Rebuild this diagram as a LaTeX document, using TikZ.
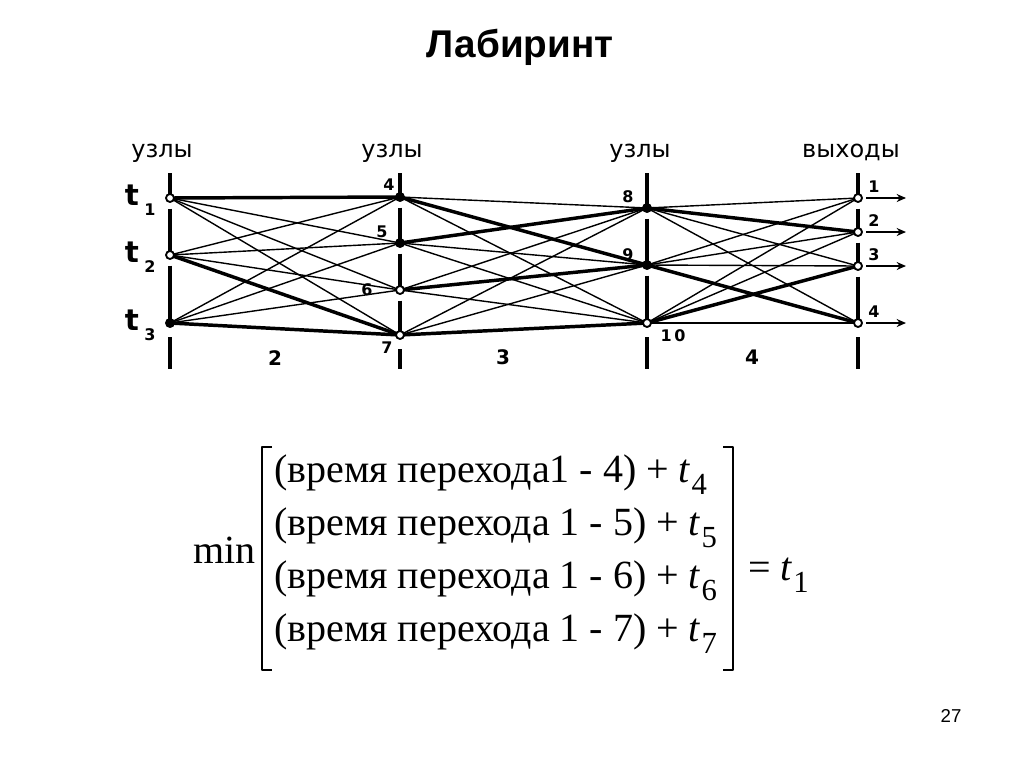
\documentclass[tikz,border=0pt]{standalone}
\usepackage{fontspec}
\setmainfont{Liberation Serif}
\newfontfamily\labfont{DejaVu Sans}
\newfontfamily\headfont{Liberation Sans}
\usetikzlibrary{arrows.meta,calc}
\newcommand\tvar[1]{\textit{t}\kern0.5pt\raisebox{-0.32em}{\fontsize{23}{23}\selectfont #1}}

\begin{document}
\begin{tikzpicture}[x=0.75pt,y=-0.75pt,>={Stealth[length=7pt,width=6pt]},line join=round,
  lnk/.style={line width=1.05pt},
  best/.style={line width=2.6pt},
  vline/.style={line width=2.3pt},
  dot/.style={circle,draw,line width=1.4pt,inner sep=0pt,minimum size=6pt,fill=white},
  fdot/.style={dot,fill=black},
  lab/.style={font=\labfont\fontsize{18}{18}\selectfont},
  num/.style={font=\labfont\bfseries\fontsize{12}{12}\selectfont,inner sep=0pt},
  big/.style={font=\labfont\bfseries\fontsize{15}{15}\selectfont,inner sep=0pt},
  tlab/.style={font=\labfont\bfseries\fontsize{22}{22}\selectfont,inner sep=0pt},
  row/.style={anchor=base west,inner sep=0pt,font=\fontsize{30}{30}\selectfont}]
\useasboundingbox (0,0) rectangle (1024,768);
% title
\node[font=\headfont\bfseries\fontsize{29}{29}\selectfont] (title) at (520,47) {Лабиринт};
% node places
\coordinate (t1) at (170,198); \coordinate (t2) at (170,255); \coordinate (t3) at (170,323);
\coordinate (n4) at (400,197); \coordinate (n5) at (400,243); \coordinate (n6) at (400,290); \coordinate (n7) at (400,335);
\coordinate (n8) at (647,208); \coordinate (n9) at (647,265); \coordinate (n10) at (647,323);
\coordinate (o1) at (858,198); \coordinate (o2) at (858,232); \coordinate (o3) at (858,266); \coordinate (o4) at (858,323);
% column lines
\foreach \c/\x in {t1/170,n4/400,n8/647,o1/858} \draw[vline] (\x,173) -- (\c);
\foreach \a/\b in {t1/t2,t2/t3,n4/n5,n5/n6,n6/n7,n8/n9,n9/n10,o1/o2,o2/o3,o3/o4}
  \draw[vline,shorten <=8pt] (\a) -- (\b);
\foreach \c/\x in {t3/170,n7/400,n10/647,o4/858} \draw[vline] (\c) ++(0,14) -- (\x,369);
% all passages
\foreach \a in {t1,t2,t3} \foreach \b in {n4,n5,n6,n7} \draw[lnk] (\a) -- (\b);
\foreach \a in {n4,n5,n6,n7} \foreach \b in {n8,n9,n10} \draw[lnk] (\a) -- (\b);
\foreach \a in {n8,n9,n10} \foreach \b in {o1,o2,o3,o4} \draw[lnk] (\a) -- (\b);
% best passages
\foreach \a/\b in {t1/n4,t2/n7,t3/n7,n4/n9,n5/n8,n6/n9,n7/n10,n8/o2,n9/o4,n10/o3}
  \draw[best] (\a) -- (\b);
% node marks
\foreach \c in {t1,t2,n6,n7,n10,o1,o2,o3,o4} \node[dot] at (\c) {};
\foreach \c in {t3,n4,n5,n8,n9} \node[fdot] at (\c) {};
% exits
\foreach \o/\k in {o1/1,o2/2,o3/3,o4/4} {
  \draw[->,line width=1.4pt] (\o) ++(8,0) -- ++(40,0);
  \node[num] (e\k) at ($(\o)+(16,-11)$) {\k};
}
% headings
\node[lab] (h1) at (162,153) {узлы};
\node[lab] (h2) at (392,153) {узлы};
\node[lab] (h3) at (640,153) {узлы};
\node[lab] (h4) at (851,152) {выходы};
% start labels
\foreach \c/\k in {t1/1,t2/2,t3/3} {
  \node[tlab] (lt\k) at ($(\c)+(-38,-3)$) {t};
  \node[num] (ls\k) at ($(\c)+(-20,12)$) {\k};
}
% node numbers
\node[num] (l4) at (389,185) {4};
\node[num] (l5) at (382,232) {5};
\node[num] (l6) at (367,290) {6};
\node[num] (l7) at (387,348) {7};
\node[num] (l8) at (628,197) {8};
\node[num] (l9) at (628,255) {9};
\node[num] (l10) at (673,336) {1\,0};
% stage numbers
\node[big] (s2) at (275,358) {2};
\node[big] (s3) at (503,357) {3};
\node[big] (s4) at (752,357) {4};
% formula
\node[row] (r1) at (274,482) {(время перехода1 - 4) + \tvar{4}};
\node[row] (r2) at (274,535) {(время перехода 1 - 5) + \tvar{5}};
\node[row] (r3) at (274,588) {(время перехода 1 - 6) + \tvar{6}};
\node[row] (r4) at (274,641) {(время перехода 1 - 7) + \tvar{7}};
\node[row,anchor=base east] (mn) at (256,563) {min};
\draw[line width=1.2pt] (272,447) -- (262,447) -- (262,670) -- (272,670);
\draw[line width=1.2pt] (723,447) -- (733,447) -- (733,670) -- (723,670);
\node[row] (res) at (748,580) {= \tvar{1}};
% page
\node[font=\headfont\fontsize{14}{14}\selectfont] (page) at (951,716) {27};
\end{tikzpicture}
\end{document}
